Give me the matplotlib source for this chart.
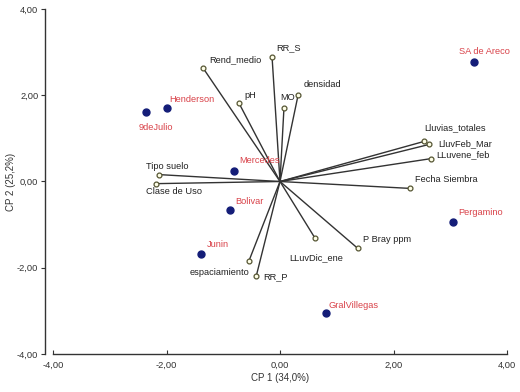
import matplotlib
matplotlib.use("Agg")
import matplotlib.pyplot as plt
from matplotlib.ticker import FuncFormatter

# Sites (scores)
sites = ["SA de Areco", "Henderson", "9deJulio", "Mercedes", "Bolivar", "Junin", "Pergamino", "GralVillegas"]
site_cp1 = [3.42, -1.99, -2.36, -0.81, -0.88, -1.39, 3.05, 0.81]
site_cp2 = [2.78, 1.71, 1.62, 0.25, -0.67, -1.69, -0.93, -3.06]

# Variables (loadings)
variables = ["Rend_medio", "RR_S", "pH", "MO", "densidad", "Lluvias_totales", "LluvFeb_Mar",
             "LLuvene_feb", "Fecha Siembra", "P Bray ppm", "LLuvDic_ene", "RR_P",
             "espaciamiento", "Tipo suelo", "Clase de Uso"]
var_cp1 = [-1.36, -0.14, -0.72, 0.07, 0.32, 2.54, 2.63, 2.66, 2.29, 1.37, 0.62, -0.42, -0.55, -2.13, -2.19]
var_cp2 = [2.64, 2.89, 1.81, 1.71, 2.01, 0.93, 0.86, 0.53, -0.16, -1.55, -1.32, -2.20, -1.85, 0.16, -0.05]

x_label = "CP 1 (34,0%)"
y_label = "CP 2 (25,2%)"
ticks = [-4, -2, 0, 2, 4]

# label placement (pixel offsets, ha)
site_offsets = {"SA de Areco": (-15, 10), "Henderson": (2, 8), "9deJulio": (-7, -16),
                "Mercedes": (5, 10), "Bolivar": (5, 9), "Junin": (6, 10),
                "Pergamino": (5, 9), "GralVillegas": (3, 8)}
var_offsets = {"Rend_medio": (6, 8, "left"), "RR_S": (4, 9, "left"), "pH": (5, 8, "left"),
               "MO": (-4, 10, "left"), "densidad": (5, 10, "left"), "Lluvias_totales": (0, 14, "left"),
               "LluvFeb_Mar": (9, 1, "left"), "LLuvene_feb": (5, 4, "left"),
               "Fecha Siembra": (5, 9, "left"), "P Bray ppm": (5, 9, "left"),
               "LLuvDic_ene": (-26, -19, "left"), "RR_P": (7, 0, "left"),
               "espaciamiento": (1, -11, "right"), "Tipo suelo": (-13, 8, "left"),
               "Clase de Uso": (-10, -8, "left")}

plt.rcParams['font.family'] = ['Liberation Sans', 'DejaVu Sans']
fig = plt.figure(figsize=(5.2, 3.92), dpi=100)
ax = fig.add_axes([53/520, 1-354/392, (507-53)/520, (354-9)/392])
ax.set_xlim(-4, 4)
ax.set_ylim(-4, 4)

line_col = "#333333"
for x, y in zip(var_cp1, var_cp2):
    ax.plot([0, x], [0, y], color=line_col, lw=1.0, zorder=2)
ax.plot(var_cp1, var_cp2, 'o', ms=3.5, mfc="#ffffe8", mec="#555533", mew=0.9, zorder=3, ls='none')
for name, x, y in zip(variables, var_cp1, var_cp2):
    dx, dy, ha = var_offsets[name]
    ax.annotate(name, (x, y), xytext=(dx, dy), textcoords='offset pixels',
                ha=ha, va='center', fontsize=6.7, color="#222222")

ax.plot(site_cp1, site_cp2, 'o', ms=5, color="#141d78", zorder=4, ls='none')
for name, x, y in zip(sites, site_cp1, site_cp2):
    dx, dy = site_offsets[name]
    ax.annotate(name, (x, y), xytext=(dx, dy), textcoords='offset pixels',
                ha='left', va='center', fontsize=6.7, color="#d9434a")

ax.spines['top'].set_visible(False)
ax.spines['right'].set_visible(False)
ax.spines['left'].set_position(('outward', 6))
for s in ('left', 'bottom'):
    ax.spines[s].set_color("#333333")
    ax.spines[s].set_linewidth(1.0)
ax.set_xticks(ticks)
ax.set_yticks(ticks)
fmt = FuncFormatter(lambda v, p: f"{v:.2f}".replace('.', ','))
ax.xaxis.set_major_formatter(fmt)
ax.yaxis.set_major_formatter(fmt)
ax.tick_params(axis='both', labelsize=6.7, colors="#333333", length=3, width=0.8)
ax.tick_params(axis='x', direction='in', pad=5)
ax.tick_params(axis='y', pad=1.5)
ax.set_xlabel(x_label, fontsize=7, color="#333333", labelpad=2)
ax.set_ylabel(y_label, fontsize=7, color="#333333", labelpad=1)

fig.savefig("out.png", dpi=100)
